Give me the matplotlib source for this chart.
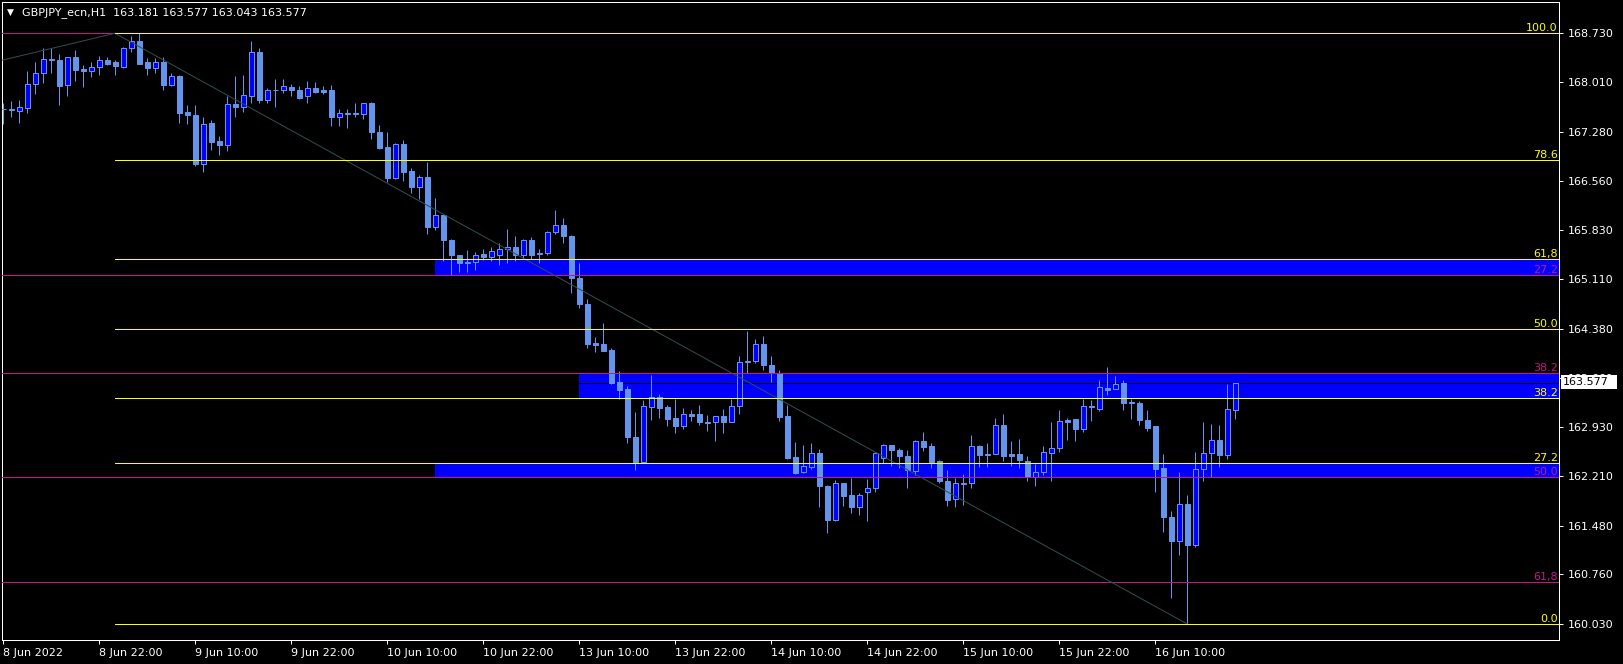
import matplotlib
matplotlib.use("Agg")
from matplotlib import pyplot as plt
from matplotlib.patches import Rectangle
import numpy as np

# GBPJPY H1 candles (bar 0 = 8 Jun 10:00)
opens = [167.62, 167.61, 167.59, 167.63, 167.99, 168.14, 168.35, 168.34, 167.97, 168.38,
         168.20, 168.18, 168.23, 168.34, 168.31, 168.24, 168.52, 168.62, 168.31, 168.22,
         168.31, 167.97, 168.10, 167.57, 167.53, 166.81, 167.41, 167.14, 167.09, 167.69,
         167.65, 167.81, 168.45, 167.75, 167.90, 167.89, 167.94, 167.90, 167.80, 167.92,
         167.90, 167.90, 167.49, 167.55, 167.54, 167.54, 167.70, 167.27, 167.05, 166.60,
         167.10, 166.70, 166.46, 166.61, 165.88, 166.05, 165.69, 165.46, 165.36, 165.36,
         165.48, 165.43, 165.46, 165.55, 165.58, 165.47, 165.69, 165.49, 165.49, 165.81,
         165.91, 165.75, 165.12, 164.75, 164.17, 164.15, 164.07, 163.59, 163.49, 162.78,
         162.42, 163.23, 163.37, 163.23, 163.06, 162.94, 163.12, 163.12, 163.01, 163.00,
         163.09, 163.01, 163.24, 163.91, 163.91, 164.16, 163.85, 163.73, 163.09, 162.49,
         162.27, 162.35, 162.55, 162.07, 161.56, 162.10, 161.93, 161.75, 161.97, 162.03,
         162.47, 162.66, 162.60, 162.50, 162.29, 162.73, 162.65, 162.43, 162.14, 161.87,
         162.11, 162.10, 162.65, 162.52, 162.53, 162.96, 162.53, 162.53, 162.43, 162.20,
         162.27, 162.55, 162.63, 163.03, 163.05, 162.90, 163.24, 163.20, 163.51, 163.49,
         163.58, 163.30, 163.29, 163.03, 162.94, 162.33, 161.60, 161.25, 161.80, 161.19,
         162.31, 162.55, 162.74, 162.52, 163.181]
highs = [167.71, 167.73, 167.75, 168.17, 168.31, 168.52, 168.51, 168.43, 168.38, 168.48,
         168.26, 168.30, 168.40, 168.38, 168.34, 168.53, 168.69, 168.73, 168.37, 168.37,
         168.38, 168.15, 168.12, 167.67, 167.67, 167.50, 167.45, 167.22, 167.81, 168.10,
         168.12, 168.62, 168.52, 167.93, 168.06, 168.06, 167.98, 167.95, 168.03, 168.02,
         167.95, 167.97, 167.62, 167.62, 167.70, 167.71, 167.72, 167.38, 167.28, 167.12,
         167.16, 166.74, 166.64, 166.84, 166.31, 166.06, 165.70, 165.47, 165.54, 165.51,
         165.55, 165.58, 165.64, 165.85, 165.75, 165.70, 165.73, 165.56, 165.82, 166.13,
         166.01, 165.76, 165.34, 164.81, 164.26, 164.46, 164.10, 163.75, 163.53, 163.15,
         163.33, 163.70, 163.42, 163.26, 163.35, 163.21, 163.18, 163.26, 163.11, 163.10,
         163.20, 163.35, 163.98, 164.35, 164.23, 164.27, 163.98, 163.77, 163.26, 162.71,
         162.67, 162.70, 162.61, 162.08, 162.15, 162.10, 162.18, 161.96, 162.17, 162.57,
         162.68, 162.66, 162.62, 162.59, 162.74, 162.86, 162.69, 162.45, 162.30, 162.18,
         162.24, 162.81, 162.67, 162.70, 163.07, 163.12, 162.73, 162.76, 162.50, 162.39,
         162.65, 163.01, 163.18, 163.06, 163.05, 163.35, 163.33, 163.62, 163.82, 163.68,
         163.62, 163.35, 163.31, 163.18, 162.95, 162.54, 161.70, 162.27, 161.93, 162.56,
         163.01, 162.98, 162.96, 163.57, 163.577]
lows = [167.39, 167.49, 167.41, 167.56, 167.84, 168.00, 168.15, 167.67, 167.81, 168.03,
        167.94, 168.09, 168.12, 168.26, 168.12, 168.22, 168.46, 168.28, 168.11, 168.15,
        167.90, 167.95, 167.41, 167.40, 166.77, 166.68, 167.01, 166.94, 167.00, 167.50,
        167.57, 167.71, 167.71, 167.71, 167.64, 167.85, 167.81, 167.76, 167.71, 167.85,
        167.84, 167.36, 167.36, 167.33, 167.49, 167.47, 167.17, 167.03, 166.54, 166.58,
        166.55, 166.38, 166.29, 165.77, 165.83, 165.37, 165.17, 165.22, 165.22, 165.24,
        165.39, 165.38, 165.32, 165.35, 165.38, 165.42, 165.41, 165.34, 165.46, 165.78,
        165.64, 164.90, 164.69, 164.10, 164.03, 164.05, 163.56, 163.35, 162.69, 162.30,
        162.40, 163.03, 163.06, 162.95, 162.85, 162.90, 163.02, 162.96, 162.87, 162.72,
        162.85, 163.00, 163.13, 163.72, 163.88, 163.77, 163.60, 163.02, 162.46, 162.24,
        162.26, 162.31, 161.76, 161.37, 161.55, 161.77, 161.67, 161.64, 161.55, 161.98,
        162.40, 162.36, 162.33, 162.04, 162.23, 162.58, 162.33, 162.10, 161.77, 161.76,
        161.79, 162.04, 162.35, 162.35, 162.53, 162.43, 162.36, 162.33, 162.13, 162.07,
        162.23, 162.13, 162.57, 162.74, 162.72, 162.86, 163.02, 163.17, 163.40, 163.49,
        163.18, 163.05, 162.96, 162.87, 161.98, 161.38, 160.42, 161.05, 160.03, 161.16,
        162.14, 162.20, 162.35, 162.46, 163.043]
closes = [167.61, 167.60, 167.64, 167.99, 168.14, 168.35, 168.33, 167.96, 168.38, 168.19,
          168.17, 168.23, 168.34, 168.28, 168.25, 168.51, 168.61, 168.28, 168.22, 168.31,
          167.97, 168.10, 167.56, 167.52, 166.81, 167.39, 167.13, 167.08, 167.69, 167.65,
          167.82, 168.46, 167.75, 167.90, 167.89, 167.95, 167.89, 167.77, 167.93, 167.86,
          167.86, 167.49, 167.55, 167.54, 167.55, 167.70, 167.27, 167.04, 166.60, 167.10,
          166.68, 166.46, 166.61, 165.88, 166.05, 165.69, 165.46, 165.35, 165.35, 165.47,
          165.43, 165.52, 165.56, 165.58, 165.47, 165.69, 165.46, 165.48, 165.81, 165.91,
          165.74, 165.12, 164.75, 164.15, 164.14, 164.05, 163.58, 163.48, 162.78, 162.42,
          163.24, 163.37, 163.21, 163.05, 162.94, 163.12, 163.10, 163.00, 162.99, 163.09,
          163.01, 163.24, 163.89, 163.89, 164.16, 163.84, 163.72, 163.08, 162.48, 162.26,
          162.36, 162.55, 162.07, 161.56, 162.10, 161.92, 161.75, 161.93, 162.03, 162.55,
          162.66, 162.59, 162.50, 162.30, 162.73, 162.64, 162.42, 162.13, 161.85, 162.10,
          162.095, 162.65, 162.52, 162.53, 162.96, 162.51, 162.51, 162.44, 162.20, 162.27,
          162.56, 162.62, 163.02, 163.01, 162.90, 163.24, 163.22, 163.52, 163.48, 163.56,
          163.29, 163.28, 163.03, 162.92, 162.32, 161.60, 161.25, 161.80, 161.19, 162.31,
          162.55, 162.74, 162.52, 163.19, 163.577]

time_tick_bars = [0, 12, 24, 36, 48, 60, 72, 84, 96, 108, 120, 132, 144]
time_tick_labels = ["8 Jun 2022", "8 Jun 22:00", "9 Jun 10:00", "9 Jun 22:00",
                    "10 Jun 10:00", "10 Jun 22:00", "13 Jun 10:00", "13 Jun 22:00",
                    "14 Jun 10:00", "14 Jun 22:00", "15 Jun 10:00", "15 Jun 22:00",
                    "16 Jun 10:00"]
price_ticks = [168.730, 168.010, 167.280, 166.560, 165.830, 165.110, 164.380,
               163.660, 162.930, 162.210, 161.480, 160.760, 160.030]

# yellow fibo (168.730 -> 160.030)
yellow_prices = [168.730, 166.868, 165.407, 164.380, 163.353, 162.396, 160.030]
yellow_labels = ["100.0", "78.6", "61,8", "50.0", "38.2", "27.2", "0.0"]
yellow_start_bar = 13.96
yellow_end_bar = 148
# magenta fibo (anchored further left)
magenta_prices = [168.730, 165.170, 163.722, 162.195, 160.645]
magenta_labels = ["", "27.2", "38.2", "50.0", "61,8"]
magenta_diag_bars = [-0.08, 13.96]
magenta_diag_prices = [168.336, 168.730]

# blue zones
zone_start = [53.96, 71.96, 53.96]
zone_low = [165.170, 163.353, 162.195]
zone_high = [165.400, 163.722, 162.396]

bid = 163.577
symbol_text = "GBPJPY_ecn,H1  163.181 163.577 163.043 163.577"

W, H = 1623, 664
PX = 0.72  # one pixel in points at dpi 100
light = "#6495ED"
dark = "#0000FF"
yellow = "#FFFF00"
magenta = "#C71585"

fig = plt.figure(figsize=(W / 100, H / 100), dpi=100, facecolor="black")
ax = fig.add_axes([2 / W, (H - 640) / H, 1557 / W, 638 / H], facecolor="black")
xmin, xmax = -0.1625, 194.46
ax.set_xlim(xmin, xmax)
ax.set_ylim(159.795, 169.191)

for s, lo, hi in zip(zone_start, zone_low, zone_high):
    ax.add_patch(Rectangle((s, lo), xmax + 5 - s, hi - lo, facecolor=dark,
                           edgecolor="none", zorder=1))

ax.axhline(bid, color="black", lw=PX, zorder=1.5)

x = np.arange(len(opens))
o = np.array(opens)
c = np.array(closes)
up = c >= o
ax.vlines(x, lows, highs, color=light, lw=PX, zorder=3)
body_lo = np.minimum(o, c)
body_h = np.maximum(np.abs(c - o), 0.004)
ax.bar(x[up], body_h[up], bottom=body_lo[up], width=0.55, color=dark,
       edgecolor=light, lw=PX, zorder=4)
ax.bar(x[~up], body_h[~up], bottom=body_lo[~up], width=0.55, color=light,
       edgecolor=light, lw=PX, zorder=4)

# fibo lines
for p, lab in zip(magenta_prices, magenta_labels):
    ax.plot([xmin, xmax], [p, p], color=magenta, lw=PX, zorder=5)
    if lab:
        ax.text(xmax - 0.15, p, lab, color=magenta, fontsize=8, ha="right",
                va="bottom", zorder=6)
ax.plot(magenta_diag_bars, magenta_diag_prices, color="#2F4F4F", lw=PX, zorder=5)
for p, lab in zip(yellow_prices, yellow_labels):
    ax.plot([yellow_start_bar, xmax], [p, p], color=yellow, lw=PX, zorder=5.5)
    ax.text(xmax - 0.15, p, lab, color=yellow, fontsize=8, ha="right",
            va="bottom", zorder=6)
ax.plot([yellow_start_bar, yellow_end_bar], [yellow_prices[0], yellow_prices[-1]],
        color="#2F4F4F", lw=PX, zorder=5)

# axes styling
for sp in ax.spines.values():
    sp.set_color("white")
    sp.set_linewidth(PX)
ax.yaxis.tick_right()
ax.set_yticks(price_ticks, [f"{v:.3f}" for v in price_ticks])
ax.set_xticks(time_tick_bars, time_tick_labels)
for lbl in ax.get_xticklabels():
    lbl.set_horizontalalignment("left")
ax.tick_params(axis="y", colors="white", length=3, width=PX, pad=3, labelsize=8)
ax.tick_params(axis="x", colors="white", length=3, width=PX, pad=3, labelsize=8)

# header and bid label
fig.text(7 / W, 1 - 12.5 / H, "\u25bc", color="white", fontsize=6.5, va="center")
fig.text(21.5 / W, 1 - 12.5 / H, symbol_text, color="white", fontsize=8, va="center")
fig.add_artist(Rectangle((1561 / W, 1 - 389 / H), 56 / W, 14 / H,
                         transform=fig.transFigure, facecolor="white",
                         edgecolor="none", zorder=5))
fig.text(1563 / W, 1 - 382 / H, f"{bid:.3f}", color="black", fontsize=8,
         va="center", zorder=6)

fig.savefig("out.png", dpi=100, facecolor="black")
